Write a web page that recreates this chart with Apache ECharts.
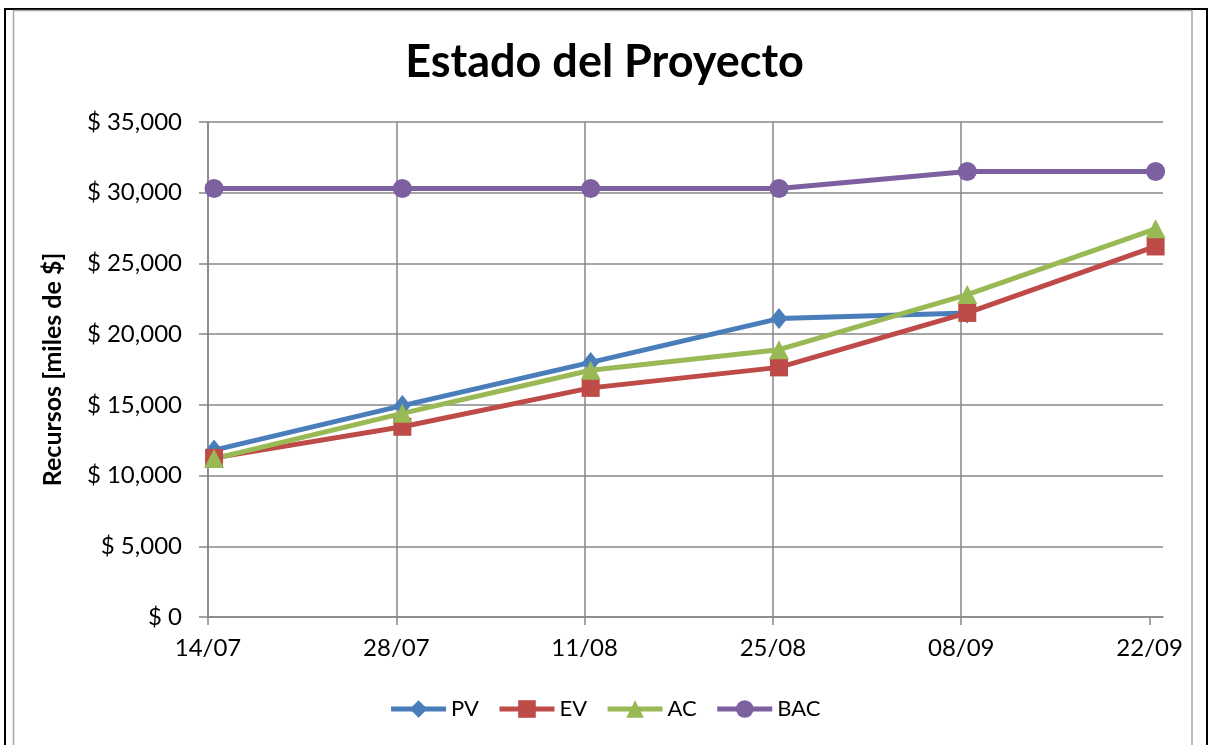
<!DOCTYPE html>
<html>
<head>
<meta charset="utf-8">
<script src="https://cdn.jsdelivr.net/npm/echarts@6/dist/echarts.min.js"></script>
<style>
html, body { margin: 0; padding: 0; background: #fff; }
#main { width: 1209px; height: 745px; }
</style>
</head>
<body>
<div id="main"></div>
<script>
// datos
var fechas = ['14/07', '28/07', '11/08', '25/08', '08/09', '22/09'];
var pv  = [11800, 14950, 18000, 21100, 21500, null];
var ev  = [11250, 13450, 16200, 17650, 21500, 26200];
var ac  = [11200, 14400, 17450, 18900, 22800, 27450];
var bac = [30300, 30300, 30300, 30300, 31500, 31500];
var yTicks = [0, 5000, 10000, 15000, 20000, 25000, 30000, 35000];

var fuente = 'Lato, "Open Sans", sans-serif';

// dias desde la primera fecha
function dia(f) {
    var p = f.split('/');
    var t = Date.UTC(2014, +p[1] - 1, +p[0]);
    var p0 = fechas[0].split('/');
    return Math.round((t - Date.UTC(2014, +p0[1] - 1, +p0[0])) / 86400000);
}
var dias = fechas.map(dia);
// los puntos caen a mediodia
function serie(vals) {
    return vals.map(function (v, i) { return [dias[i] + 0.45, v]; });
}
function fmtDia(d) {
    var i = dias.indexOf(Math.round(d));
    return i >= 0 && Math.abs(d - dias[i]) < 0.01 ? fechas[i] : '';
}
function fmtPeso(v) {
    return '$ ' + String(v).replace(/\B(?=(\d{3})+(?!\d))/g, ',');
}

var myChart = echarts.init(document.getElementById('main'));
var option = {
    backgroundColor: '#fff',
    animation: false,
    title: {
        text: 'Estado del Proyecto',
        left: 'center',
        top: 35,
        textStyle: { fontFamily: fuente, fontSize: 45, fontWeight: 'bold', color: '#000' }
    },
    graphic: [
        { type: 'rect', shape: { x: 5, y: 9, width: 1202, height: 760 }, style: { fill: 'none', stroke: '#000', lineWidth: 2 }, silent: true },
        { type: 'rect', shape: { x: 13.5, y: 10.5, width: 1178.5, height: 760 }, style: { fill: 'none', stroke: '#a6a6a6', lineWidth: 1.5 }, silent: true }
    ],
    legend: {
        bottom: 20,
        left: 'center',
        itemWidth: 55,
        itemHeight: 22,
        itemGap: 18,
        lineStyle: { width: 5 },
        textStyle: { fontFamily: fuente, fontSize: 22, color: '#000' },
        data: ['PV', 'EV', 'AC', 'BAC']
    },
    grid: { left: 208, right: 46, top: 122, bottom: 128 },
    xAxis: {
        type: 'value',
        min: 0,
        max: dias[dias.length - 1] + 1,
        axisLine: { show: true, lineStyle: { color: '#878787', width: 1.5 } },
        axisTick: { show: true, customValues: dias, length: 8, lineStyle: { color: '#878787', width: 1.5 } },
        splitLine: { show: true, showMaxLine: false, lineStyle: { color: '#878787', width: 1.5 } },
        axisLabel: {
            customValues: dias,
            formatter: fmtDia,
            margin: 19,
            fontFamily: fuente, fontSize: 24, color: '#000'
        }
    },
    yAxis: {
        type: 'value',
        min: yTicks[0],
        max: yTicks[yTicks.length - 1],
        interval: yTicks[1] - yTicks[0],
        name: 'Recursos [miles de $]',
        nameLocation: 'middle',
        nameGap: 143,
        nameTextStyle: { fontFamily: fuente, fontSize: 25, fontWeight: 'bold', color: '#000' },
        axisLine: { show: true, lineStyle: { color: '#878787', width: 1.5 } },
        axisTick: { show: true, length: 9, lineStyle: { color: '#878787', width: 1.5 } },
        splitLine: { show: true, lineStyle: { color: '#878787', width: 1.5 } },
        axisLabel: { formatter: fmtPeso, margin: 26, fontFamily: fuente, fontSize: 24, color: '#000' }
    },
    series: [
        { name: 'PV', type: 'line', data: serie(pv), color: '#4a7ebb', symbol: 'diamond', symbolSize: [17, 21], lineStyle: { width: 5 } },
        { name: 'EV', type: 'line', data: serie(ev), color: '#be4b48', symbol: 'rect', symbolSize: 18, lineStyle: { width: 5 } },
        { name: 'AC', type: 'line', data: serie(ac), color: '#98b954', symbol: 'triangle', symbolSize: [20, 19], lineStyle: { width: 5 } },
        { name: 'BAC', type: 'line', data: serie(bac), color: '#7d60a0', symbol: 'circle', symbolSize: 19, lineStyle: { width: 5 } }
    ]
};
myChart.setOption(option);
</script>
</body>
</html>
